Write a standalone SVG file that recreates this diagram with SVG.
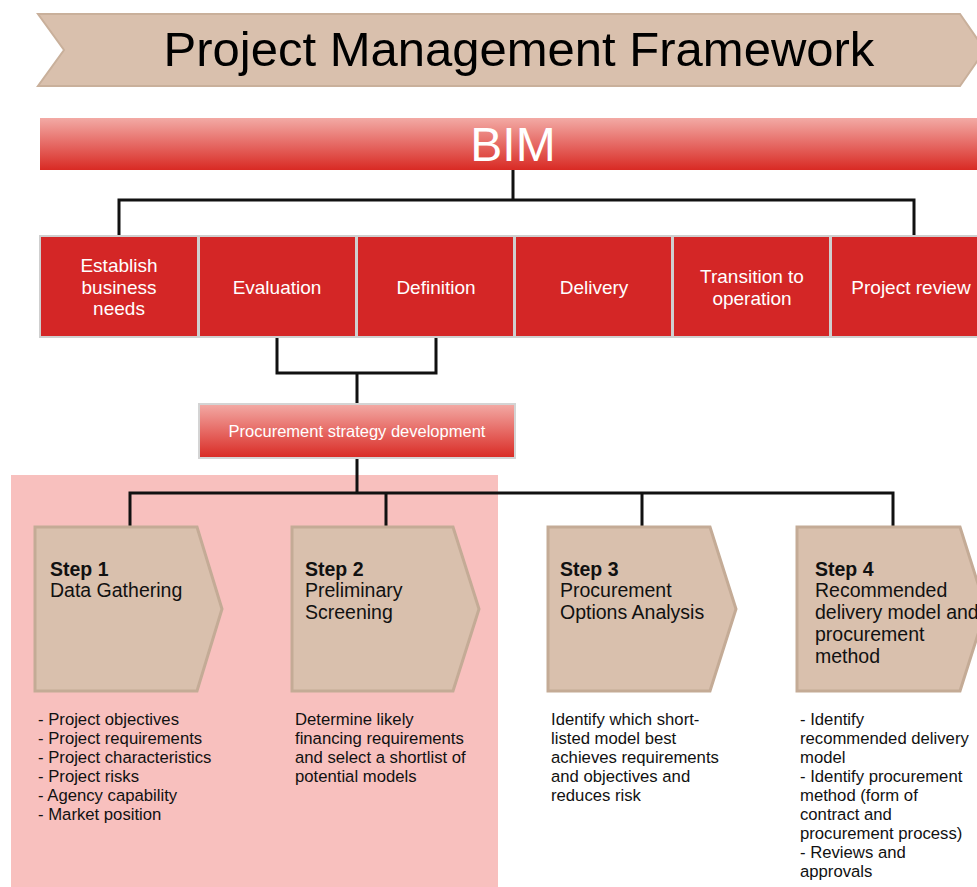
<svg xmlns="http://www.w3.org/2000/svg" width="977" height="887" viewBox="0 0 977 887">
<defs>
<linearGradient id="redgrad" x1="0" y1="0" x2="0" y2="1">
<stop offset="0" stop-color="#f3aaa5"/>
<stop offset="1" stop-color="#d92a24"/>
</linearGradient>
<style>
text{font-family:"Liberation Sans",Arial,sans-serif}
.phase rect{fill:#d42626;stroke:#cfcfcf;stroke-width:2}
.phase text{fill:#fff;font-size:19px;text-anchor:middle}
.step polygon{fill:#d9c0ad;stroke:#c4ab96;stroke-width:3}
.step text{fill:#111;font-size:19.5px}
.step text.b{font-weight:bold}
.step text.desc{fill:#111;font-size:16.7px}
.conn{fill:none;stroke:#111;stroke-width:3}
</style>
</defs>
<rect width="977" height="887" fill="#fff"/>
<g id="title">
<polygon points="38,14 960,14 985,50 960,86 38,86 64,50" fill="#d9c0ad" stroke="#c9b09b" stroke-width="2"/>
<text x="519" y="66" font-size="49" text-anchor="middle" fill="#000">Project Management Framework</text>
</g>
<rect x="11" y="475" width="487" height="412" fill="#f8c0be"/>
<g id="bim">
<rect x="40" y="118" width="940" height="52" fill="url(#redgrad)"/>
<text x="513" y="161" font-size="48" text-anchor="middle" fill="#fff">BIM</text>
</g>
<g id="connectors">
<path class="conn" d="M513,170 V200 M119,236 V200 H914 V236"/>
<path class="conn" d="M277,337 V373 H436 V337 M357,373 V404"/>
<path class="conn" d="M357,458 V493 M130,527 V493 H893 V527 M386,493 V527 M642,493 V527"/>
</g>
<g id="phase1" class="phase"><rect x="40" y="236" width="158" height="101"/><text x="119" y="272">Establish</text><text x="119" y="294">business</text><text x="119" y="315">needs</text></g>
<g id="phase2" class="phase"><rect x="199" y="236" width="157" height="101"/><text x="277" y="294">Evaluation</text></g>
<g id="phase3" class="phase"><rect x="357" y="236" width="157" height="101"/><text x="436" y="294">Definition</text></g>
<g id="phase4" class="phase"><rect x="515" y="236" width="157" height="101"/><text x="594" y="294">Delivery</text></g>
<g id="phase5" class="phase"><rect x="673" y="236" width="157" height="101"/><text x="752" y="283">Transition to</text><text x="752" y="305">operation</text></g>
<g id="phase6" class="phase"><rect x="831" y="236" width="160" height="101"/><text x="911" y="294">Project review</text></g>
<g id="procurement">
<rect x="199" y="404" width="316" height="54" fill="url(#redgrad)" stroke="#d4d4d4" stroke-width="2"/>
<text x="357" y="437" font-size="16.5" text-anchor="middle" fill="#fff">Procurement strategy development</text>
</g>
<g id="step1" class="step">
<polygon points="35,527 197,527 222,609 197,691 35,691"/>
<text x="50" y="576" class="b">Step 1</text>
<text x="50" y="597">Data Gathering</text>
<text class="desc" x="38" y="725">- Project objectives</text>
<text class="desc" x="38" y="744">- Project requirements</text>
<text class="desc" x="38" y="763">- Project characteristics</text>
<text class="desc" x="38" y="782">- Project risks</text>
<text class="desc" x="38" y="801">- Agency capability</text>
<text class="desc" x="38" y="820">- Market position</text>
</g>
<g id="step2" class="step">
<polygon points="292,527 453,527 479,609 453,691 292,691"/>
<text x="305" y="576" class="b">Step 2</text>
<text x="305" y="597">Preliminary</text>
<text x="305" y="619">Screening</text>
<text class="desc" x="295" y="725">Determine likely</text>
<text class="desc" x="295" y="744">financing requirements</text>
<text class="desc" x="295" y="763">and select a shortlist of</text>
<text class="desc" x="295" y="782">potential models</text>
</g>
<g id="step3" class="step">
<polygon points="548,527 710,527 736,609 710,691 548,691"/>
<text x="560" y="576" class="b">Step 3</text>
<text x="560" y="597">Procurement</text>
<text x="560" y="619">Options Analysis</text>
<text class="desc" x="551" y="725">Identify which short-</text>
<text class="desc" x="551" y="744">listed model best</text>
<text class="desc" x="551" y="763">achieves requirements</text>
<text class="desc" x="551" y="782">and objectives and</text>
<text class="desc" x="551" y="801">reduces risk</text>
</g>
<g id="step4" class="step">
<polygon points="797,527 960,527 986,609 960,691 797,691"/>
<text x="815" y="576" class="b">Step 4</text>
<text x="815" y="597">Recommended</text>
<text x="815" y="619">delivery model and</text>
<text x="815" y="641">procurement</text>
<text x="815" y="663">method</text>
<text class="desc" x="800" y="725">- Identify</text>
<text class="desc" x="800" y="744">recommended delivery</text>
<text class="desc" x="800" y="763">model</text>
<text class="desc" x="800" y="782">- Identify procurement</text>
<text class="desc" x="800" y="801">method (form of</text>
<text class="desc" x="800" y="820">contract and</text>
<text class="desc" x="800" y="839">procurement process)</text>
<text class="desc" x="800" y="858">- Reviews and</text>
<text class="desc" x="800" y="877">approvals</text>
</g>
</svg>
